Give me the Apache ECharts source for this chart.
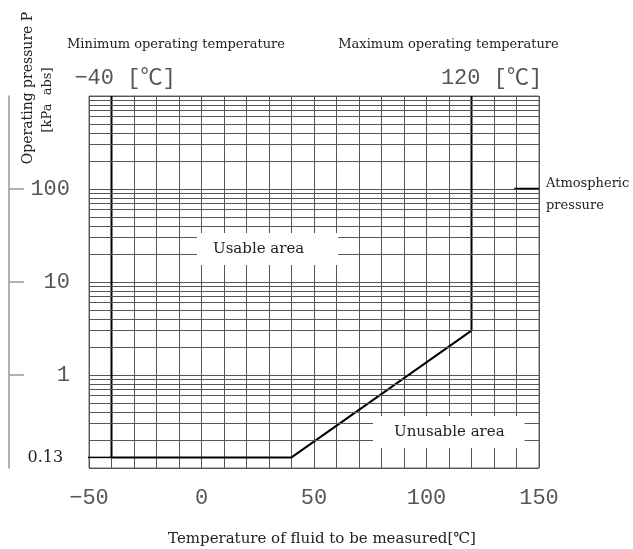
<!DOCTYPE html>
<html>
<head>
<meta charset="utf-8">
<script src="https://cdn.jsdelivr.net/npm/echarts@6.0.0/dist/echarts.min.js"></script>
<style>
    body { margin: 0; background: #fff; }
    #chart_show { width: 633px; height: 549px; }
</style>
</head>
<body>
<div id="chart_show"></div>
<script>
// 温度轴 / 压力轴的刻度
var tempTicks = [-50, 0, 50, 100, 150];
var pressTicks = [1, 10, 100];

// 使用范围边界线 (温度, 压力)
var limitTemp = [-40, -40, 40, 120, 120];
var limitPress = [1000, 0.13, 0.13, 3, 1000];

// 0.13 引出线
var lowTemp = [-53.5, -40];
var lowPress = [0.13, 0.13];

// 大气压引出线
var atmTemp = [139, 150];
var atmPress = [101.3, 101.3];

// 对数网格
var decades = [0.1, 1, 10, 100];
var minorSteps = [2, 3, 4, 5, 6, 7, 8, 9];

var serif = '"DejaVu Serif", "Noto Sans CJK JP", serif';
var mono = '"Liberation Mono", "Noto Sans CJK JP", monospace';

function zip(xs, ys) {
    var arr = [];
    for (var i = 0; i < xs.length; i++) {
        arr.push([xs[i], ys[i]]);
    }
    return arr;
}

var minorLines = [];
decades.forEach(function (d) {
    minorSteps.forEach(function (m) {
        minorLines.push({ yAxis: d * m });
    });
});

// 0.13 的标签放在引出线左端
var lowData = zip(lowTemp, lowPress);
lowData[0] = {
    value: lowData[0],
    label: {
        show: true, position: 'left', distance: 18, formatter: '0.13',
        fontFamily: serif, fontSize: 16, color: '#222'
    }
};

// 大气压标签放在引出线右端
var atmData = zip(atmTemp, atmPress);
atmData[1] = {
    value: atmData[1],
    label: {
        show: true, position: 'right', distance: 7, offset: [0, 6],
        formatter: 'Atmospheric\npressure', lineHeight: 22,
        fontFamily: serif, fontSize: 13, color: '#222'
    }
};

var myChart = echarts.init(document.getElementById('chart_show'));

var option = {
    animation: false,
    grid: {
        left: 89, right: 94, top: 96, bottom: 81,
        show: true, borderColor: '#666', borderWidth: 1,
        outerBoundsMode: 'none'
    },
    xAxis: {
        type: 'value', min: -50, max: 150, interval: 10,
        axisLine: { show: false },
        axisTick: { show: false },
        splitLine: { show: true, lineStyle: { color: '#555', width: 1 } },
        axisLabel: {
            margin: 19, fontFamily: mono, fontSize: 22, color: '#555',
            formatter: function (v) {
                return tempTicks.indexOf(v) >= 0 ? String(v).replace('-', '−') : '';
            }
        },
        name: 'Temperature of fluid to be measured[℃]',
        nameLocation: 'middle', nameGap: 64,
        nameTextStyle: { fontFamily: serif, fontSize: 15, color: '#222', padding: [0, 0, 0, 16] }
    },
    yAxis: [{
        type: 'log', logBase: 10, min: 0.1, max: 1000,
        axisLine: { show: false },
        axisTick: { show: false },
        axisLabel: { show: false },
        splitLine: { show: true, lineStyle: { color: '#555', width: 1 } }
    }, {
        // 左侧的刻度尺 (log10 空间)
        type: 'value', min: -1, max: 3, position: 'left', offset: 80,
        axisLine: { show: true, lineStyle: { color: '#999', width: 1.5 } },
        axisTick: {
            show: true, inside: true, length: 15,
            customValues: pressTicks.map(Math.log10),
            lineStyle: { color: '#999', width: 1.5 }
        },
        axisLabel: {
            inside: true, align: 'right', margin: 61,
            customValues: pressTicks.map(Math.log10),
            fontFamily: mono, fontSize: 22, color: '#555',
            formatter: function (v) {
                return String(Math.round(Math.pow(10, v)));
            }
        },
        splitLine: { show: false }
    }],
    series: [{
        name: 'limit',
        type: 'line',
        symbol: 'none',
        silent: true,
        lineStyle: { color: '#000', width: 2 },
        data: zip(limitTemp, limitPress),
        markLine: {
            silent: true,
            symbol: 'none',
            label: { show: false },
            lineStyle: { color: '#555', width: 1, type: 'solid' },
            emphasis: { disabled: true },
            data: minorLines
        }
    }, {
        name: 'low',
        type: 'line',
        symbol: 'circle', symbolSize: 0.1,
        clip: false,
        silent: true,
        itemStyle: { color: '#000' },
        lineStyle: { color: '#000', width: 1.5 },
        data: lowData
    }, {
        name: 'atm',
        type: 'line',
        symbol: 'circle', symbolSize: 0.1,
        clip: false,
        silent: true,
        itemStyle: { color: '#000' },
        lineStyle: { color: '#000', width: 1.5 },
        data: atmData
    }],
    graphic: [{
        type: 'text', x: 176, y: 45, z: 100,
        style: { text: 'Minimum operating temperature', font: '13px ' + serif, fill: '#222', align: 'center', verticalAlign: 'middle' }
    }, {
        type: 'text', x: 448.5, y: 45, z: 100,
        style: { text: 'Maximum operating temperature', font: '13px ' + serif, fill: '#222', align: 'center', verticalAlign: 'middle' }
    }, {
        type: 'text', x: 125, y: 78, z: 100,
        style: { text: '−40 [℃]', font: '22px ' + mono, fill: '#555', align: 'center', verticalAlign: 'middle' }
    }, {
        type: 'text', x: 491.5, y: 78, z: 100,
        style: { text: '120 [℃]', font: '22px ' + mono, fill: '#555', align: 'center', verticalAlign: 'middle' }
    }, {
        type: 'text', x: 28, y: 88, z: 100, rotation: Math.PI / 2,
        style: { text: 'Operating pressure P', font: '14px ' + serif, fill: '#222', align: 'center', verticalAlign: 'middle' }
    }, {
        type: 'text', x: 48, y: 100, z: 100, rotation: Math.PI / 2,
        style: { text: '[kPa  abs]', font: '13px ' + serif, fill: '#222', align: 'center', verticalAlign: 'middle' }
    }, {
        type: 'text', x: 197, y: 233, z: 100,
        style: {
            text: 'Usable area', font: '15px ' + serif, fill: '#222', lineHeight: 16,
            backgroundColor: '#fff', padding: [8, 34, 8, 16], align: 'left', verticalAlign: 'top'
        }
    }, {
        type: 'text', x: 373, y: 416, z: 100,
        style: {
            text: 'Unusable area', font: '15px ' + serif, fill: '#222', lineHeight: 16,
            backgroundColor: '#fff', padding: [8, 20, 8, 21], align: 'left', verticalAlign: 'top'
        }
    }]
};

myChart.setOption(option);
</script>
</body>
</html>
